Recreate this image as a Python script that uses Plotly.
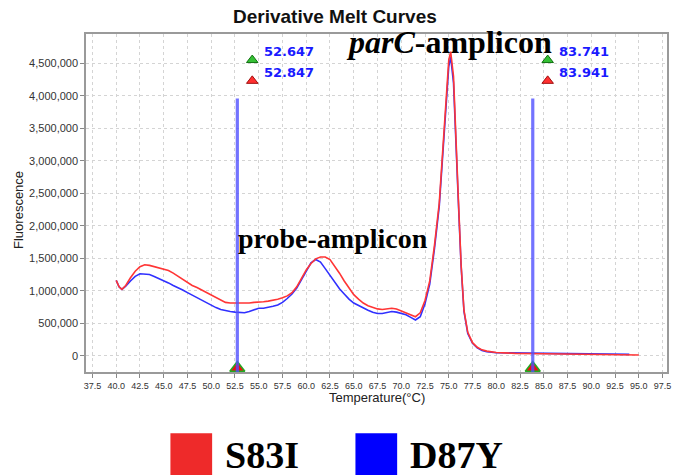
import plotly.graph_objects as go

# ---------------- data ----------------
series_names = ["S83I", "D87Y"]
series_colors = ["#ff3535", "#3030ff"]

red_temp = [40.0, 40.3, 40.6, 41.0, 41.5, 42.0, 42.5, 43.0, 43.5, 44.0, 44.5, 45.0, 45.5, 46.0, 46.5,
            47.0, 47.5, 48.0, 48.5, 49.0, 49.5, 50.0, 50.5, 51.0, 51.5, 52.0, 52.5, 53.0, 53.5, 54.0,
            54.5, 55.0, 55.5, 56.0, 56.5, 57.0, 57.5, 58.0, 58.5, 59.0, 59.5, 60.0, 60.5, 61.0, 61.5,
            62.0, 62.5, 63.0, 63.5, 64.0, 64.5, 65.0, 65.5, 66.0, 66.5, 67.0, 67.5, 68.0, 68.5, 69.0,
            69.5, 70.0, 70.5, 71.0, 71.5, 72.0, 72.5, 73.0, 73.5, 74.0, 74.5, 75.0, 75.2, 75.5, 76.0,
            76.3, 76.6, 77.0, 77.5, 78.0, 78.5, 79.0, 80.0, 82.0, 85.0, 88.0, 91.0, 95.0]
red_val = [1.16, 1.06, 1.02, 1.08, 1.20, 1.30, 1.37, 1.40, 1.39, 1.37, 1.35, 1.33, 1.31, 1.27, 1.22,
           1.17, 1.12, 1.08, 1.05, 1.01, 0.98, 0.94, 0.89, 0.85, 0.82, 0.81, 0.81, 0.81, 0.80, 0.81,
           0.82, 0.82, 0.83, 0.84, 0.85, 0.87, 0.89, 0.92, 0.97, 1.06, 1.19, 1.32, 1.42, 1.49, 1.52,
           1.52, 1.48, 1.38, 1.27, 1.15, 1.04, 0.94, 0.87, 0.81, 0.77, 0.74, 0.72, 0.71, 0.72, 0.73,
           0.72, 0.69, 0.66, 0.63, 0.60, 0.66, 0.85, 1.15, 1.70, 2.35, 3.40, 4.55, 4.68, 4.30, 2.45,
           1.40, 0.70, 0.36, 0.20, 0.13, 0.09, 0.07, 0.05, 0.035, 0.03, 0.025, 0.02, 0.01]

blue_temp = [40.0, 40.3, 40.6, 41.0, 41.5, 42.0, 42.5, 43.0, 43.5, 44.0, 44.5, 45.0, 45.5, 46.0, 46.5,
             47.0, 47.5, 48.0, 48.5, 49.0, 49.5, 50.0, 50.5, 51.0, 51.5, 52.0, 52.5, 53.0, 53.5, 54.0,
             54.5, 55.0, 55.5, 56.0, 56.5, 57.0, 57.5, 58.0, 58.5, 59.0, 59.5, 60.0, 60.5, 61.0, 61.5,
             62.0, 62.5, 63.0, 63.5, 64.0, 64.5, 65.0, 65.5, 66.0, 66.5, 67.0, 67.5, 68.0, 68.5, 69.0,
             69.5, 70.0, 70.5, 71.0, 71.5, 72.0, 72.5, 73.0, 73.5, 74.0, 74.5, 75.0, 75.2, 75.5, 76.0,
             76.3, 76.6, 77.0, 77.5, 78.0, 78.5, 79.0, 80.0, 82.0, 85.0, 88.0, 91.0, 94.0]
blue_val = [1.16, 1.06, 1.02, 1.07, 1.15, 1.22, 1.26, 1.26, 1.25, 1.22, 1.19, 1.16, 1.12, 1.08, 1.05,
            1.01, 0.97, 0.93, 0.89, 0.86, 0.82, 0.78, 0.74, 0.71, 0.69, 0.68, 0.67, 0.67, 0.66, 0.68,
            0.71, 0.73, 0.73, 0.74, 0.76, 0.78, 0.82, 0.88, 0.95, 1.04, 1.17, 1.32, 1.43, 1.48, 1.44,
            1.34, 1.24, 1.13, 1.03, 0.95, 0.87, 0.81, 0.77, 0.73, 0.70, 0.67, 0.65, 0.65, 0.67, 0.68,
            0.67, 0.65, 0.63, 0.59, 0.55, 0.60, 0.80, 1.10, 1.65, 2.30, 3.35, 4.45, 4.60, 4.20, 2.40,
            1.38, 0.68, 0.34, 0.19, 0.12, 0.08, 0.06, 0.045, 0.04, 0.035, 0.03, 0.025, 0.02]

cursor_lo = [52.647, 83.741]
cursor_hi = [52.847, 83.941]
cursor_top = 3.96e6

x_ticks = [37.5 + 2.5 * i for i in range(25)]
y_ticks = [0, 500000, 1000000, 1500000, 2000000, 2500000, 3000000, 3500000, 4000000, 4500000]

x_range = [36.82, 97.97]
y_range = [-251000, 4951000]

M = 1e6
red_y = [v * M for v in red_val]
blue_y = [v * M for v in blue_val]

fig = go.Figure()
fig.add_trace(go.Scatter(x=blue_temp, y=blue_y, mode="lines", name=series_names[1],
                         line=dict(color=series_colors[1], width=1.6), showlegend=False))
fig.add_trace(go.Scatter(x=red_temp, y=red_y, mode="lines", name=series_names[0],
                         line=dict(color=series_colors[0], width=1.6), showlegend=False))

cursor_mid = [(a + b) / 2 for a, b in zip(cursor_lo, cursor_hi)]

shapes = []
annotations = []
for c in cursor_mid:
    shapes.append(dict(type="line", xref="x", yref="y", x0=c, x1=c, y0=y_range[0], y1=cursor_top,
                       line=dict(color="rgba(80,80,255,0.8)", width=3.2), layer="above"))

# triangles near labels (green = low, red = high) and at the axis
tri_x = [c + 15 / 9.55 for c in cursor_mid]
fig.add_trace(go.Scatter(x=tri_x, y=[4.55e6] * 2, mode="markers", showlegend=False, cliponaxis=False,
                         marker=dict(symbol="triangle-up", size=10, color="#35c035",
                                     line=dict(color="#107010", width=1))))
fig.add_trace(go.Scatter(x=tri_x, y=[4.23e6] * 2, mode="markers", showlegend=False, cliponaxis=False,
                         marker=dict(symbol="triangle-up", size=10, color="#ff3030",
                                     line=dict(color="#a01010", width=1))))
fig.add_trace(go.Scatter(x=cursor_mid, y=[-0.19e6] * 2, mode="markers", showlegend=False, cliponaxis=False,
                         marker=dict(symbol="triangle-up", size=13, color="#ee1010",
                                     line=dict(color="#22aa22", width=1.5))))

for c, lo, hi in zip(cursor_mid, cursor_lo, cursor_hi):
    annotations.append(dict(x=c, xref="x", y=(372 - 51) / 338, yref="paper", xshift=24.6,
                            text=f"{lo:.3f}", showarrow=False, xanchor="left", yanchor="middle",
                            font=dict(family="DejaVu Sans", size=13, color="#1a1aff", weight="bold")))
    annotations.append(dict(x=c, xref="x", y=(372 - 72) / 338, yref="paper", xshift=24.6,
                            text=f"{hi:.3f}", showarrow=False, xanchor="left", yanchor="middle",
                            font=dict(family="DejaVu Sans", size=13, color="#1a1aff", weight="bold")))

# peak labels
annotations.append(dict(x=(452 - 86) / 585, y=(372 - 42) / 338, xref="paper", yref="paper",
                        text="<b><i>parC</i>-amplicon</b>", showarrow=False, xanchor="center", yanchor="middle",
                        font=dict(family="Liberation Serif", size=32, color="black")))
annotations.append(dict(x=(335 - 86) / 585, y=(372 - 238) / 338, xref="paper", yref="paper",
                        text="<b>probe-amplicon</b>", showarrow=False, xanchor="center", yanchor="middle",
                        font=dict(family="Liberation Serif", size=28, color="black")))

# title and axis titles
annotations.append(dict(x=(337 - 86) / 585, y=(372 - 16.5) / 338, xref="paper", yref="paper",
                        text="<b>Derivative Melt Curves</b>", showarrow=False, xanchor="center", yanchor="middle",
                        font=dict(family="Liberation Sans", size=19, color="#111111")))
annotations.append(dict(x=(379 - 86) / 585, y=(372 - 397) / 338, xref="paper", yref="paper",
                        text="Temperature(°C)", showarrow=False, xanchor="center", yanchor="middle",
                        font=dict(family="Liberation Sans", size=13, color="#222222")))
annotations.append(dict(x=(17.5 - 86) / 585, y=(372 - 210) / 338, xref="paper", yref="paper",
                        text="Fluorescence", showarrow=False, xanchor="center", yanchor="middle", textangle=-90,
                        font=dict(family="Liberation Sans", size=13, color="#222222")))

# custom legend
legend_x = [(171 - 86) / 585, (357.3 - 86) / 585]
for i, name in enumerate(series_names):
    x0 = legend_x[i]
    shapes.append(dict(type="rect", xref="paper", yref="paper", x0=x0, x1=x0 + 42 / 585,
                       y0=-0.31, y1=(372 - 433.3) / 338, fillcolor=["#ee2a2a", "#0000ff"][i],
                       line=dict(width=0)))
    annotations.append(dict(x=x0 + 53 / 585, y=(372 - 455) / 338, xref="paper", yref="paper",
                            text=f"<b>{name}</b>", showarrow=False, xanchor="left", yanchor="middle",
                            font=dict(family="Liberation Serif", size=38, color="black")))

fig.update_layout(
    width=675, height=475,
    margin=dict(l=86, r=4, t=34, b=103),
    paper_bgcolor="white", plot_bgcolor="white",
    shapes=shapes, annotations=annotations,
    showlegend=False,
    font=dict(family="Liberation Sans", color="#333333"),
)
fig.update_xaxes(range=x_range, tickvals=x_ticks, ticktext=[f"{t:.1f}" for t in x_ticks],
                 showgrid=True, gridcolor="#d4d4d4", griddash="dot", gridwidth=1,
                 showline=True, linecolor="#9a9a9a", linewidth=1.5, mirror=True,
                 ticks="outside", ticklen=4, tickcolor="#888888",
                 tickfont=dict(size=9, color="#333333"), zeroline=False)
fig.update_yaxes(range=y_range, tickvals=y_ticks, ticktext=[f"{t:,}" for t in y_ticks],
                 showgrid=True, gridcolor="#d4d4d4", griddash="dot", gridwidth=1,
                 showline=True, linecolor="#9a9a9a", linewidth=1.5, mirror=True,
                 ticks="outside", ticklen=4, tickcolor="#888888",
                 tickfont=dict(size=11, color="#333333"), zeroline=False)

fig.write_html("out.html", config={"displayModeBar": False},
               post_script="document.body.style.margin='0';document.body.style.overflow='hidden';")
